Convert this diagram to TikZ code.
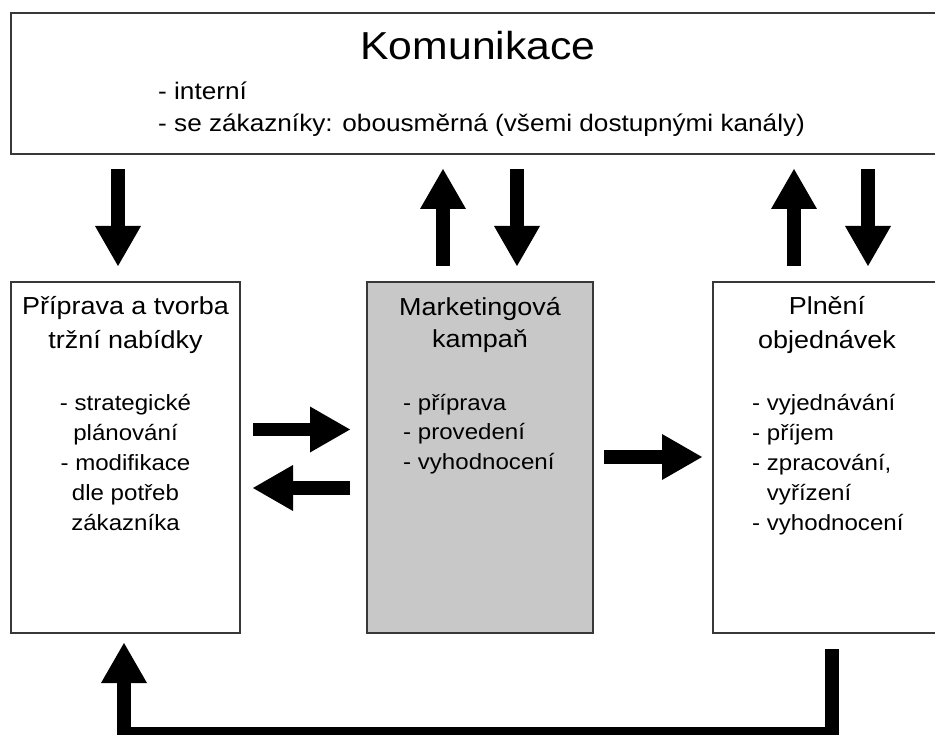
\documentclass[tikz,border=0pt]{standalone}
\usepackage{fontspec}
\setmainfont{Liberation Sans}[FakeStretch=1.095]
\usetikzlibrary{arrows.meta,calc}
\definecolor{boxline}{HTML}{383838}
\definecolor{campfill}{HTML}{C8C8C8}

\begin{document}
\begin{tikzpicture}[x=1pt,y=-1pt,
  panel/.style={draw=boxline, line width=2pt, fill=white, rectangle, inner sep=0pt},
  blk/.style={line width=13.5pt, line join=miter,
    -{Triangle[length=40pt,width=46pt,line width=0pt]}},
  headline/.style={font=\fontsize{39}{44}\selectfont, inner sep=0pt, anchor=base},
  topitem/.style={font=\fontsize{23.9}{28}\selectfont, inner sep=0pt, anchor=base west},
  title/.style={font=\fontsize{24.6}{30}\selectfont, inner sep=0pt, anchor=base},
  item/.style={font=\fontsize{22}{26}\selectfont, inner sep=0pt, anchor=base west},
  citem/.style={font=\fontsize{22}{26}\selectfont, inner sep=0pt, anchor=base}]

  % page frame
  \fill[white] (0,0) rectangle (935,735);
  \useasboundingbox (0,0) rectangle (935,735);

  % panels
  \node[panel, minimum width=934pt, minimum height=141pt] (kom) at (478,83.5) {};
  \node[panel, minimum width=229pt, minimum height=351pt] (prep) at (125.5,457.5) {};
  \node[panel, fill=campfill, minimum width=226pt, minimum height=351pt] (camp) at (480,457.5) {};
  \node[panel, minimum width=228pt, minimum height=351pt] (ful) at (827,457.5) {};

  % communication panel text
  \node[headline] (komt) at (478,60) {Komunikace};
  \node[topitem] (kom1) at (158,100) {- interní};
  \node[topitem] (kom2) at (158,132) {- se zákazníky: obousměrná (všemi dostupnými kanály)};

  % offer preparation panel text
  \node[title] (prept1) at (125.5,315) {Příprava a tvorba};
  \node[title] (prept2) at (125.5,349) {tržní nabídky};
  \foreach \t [count=\i] in {- strategické, plánování, - modifikace, dle potřeb, zákazníka}
    \node[citem] (prepi\i) at (125.5,{410+30*(\i-1)}) {\t};

  % campaign panel text
  \node[title] (campt1) at (480,316) {Marketingová};
  \node[title] (campt2) at (480,348) {kampaň};
  \foreach \t [count=\i] in {- příprava, - provedení, - vyhodnocení}
    \node[item] (campi\i) at (403,{410+29.5*(\i-1)}) {\t};

  % order fulfilment panel text
  \node[title] (fult1) at (827,315) {Plnění};
  \node[title] (fult2) at (827,349) {objednávek};
  \foreach \t [count=\i] in {- vyjednávání, - příjem, {- zpracování,}, {\phantom{- }vyřízení}, - vyhodnocení}
    \node[item] (fuli\i) at (752,{410+30*(\i-1)}) {\t};

  % columns and rows of the block arrows
  \coordinate (xa) at (118,0);
  \coordinate (xb) at (443,0);
  \coordinate (xc) at (517,0);
  \coordinate (xd) at (794,0);
  \coordinate (xe) at (868,0);
  \coordinate (ya) at (0,429.5);
  \coordinate (yb) at (0,488);
  \coordinate (yc) at (0,457);
  \coordinate (fbR) at (832,734);
  \coordinate (fbL) at (124,734);

  % vertical links with the communication panel
  \draw[blk] ($(kom.south -| xa)+(0,14)$) -- ($(prep.north -| xa)+(0,-15)$);
  \draw[blk] ($(camp.north -| xb)+(0,-15)$) -- ($(kom.south -| xb)+(0,14)$);
  \draw[blk] ($(kom.south -| xc)+(0,14)$) -- ($(camp.north -| xc)+(0,-15)$);
  \draw[blk] ($(ful.north -| xd)+(0,-15)$) -- ($(kom.south -| xd)+(0,14)$);
  \draw[blk] ($(kom.south -| xe)+(0,14)$) -- ($(ful.north -| xe)+(0,-15)$);

  % horizontal links between panels
  \draw[blk] ($(prep.east |- ya)+(12,0)$) -- ($(camp.west |- ya)+(-16,0)$);
  \draw[blk] ($(camp.west |- yb)+(-16,0)$) -- ($(prep.east |- yb)+(12,0)$);
  \draw[blk] ($(camp.east |- yc)+(10,0)$) -- ($(ful.west |- yc)+(-10,0)$);

  % feedback loop back to the offer preparation
  \draw[blk] ($(ful.south -| fbR)+(0,15)$) -- (fbR) -- (fbL) -- ($(prep.south -| fbL)+(0,9)$);
\end{tikzpicture}
\end{document}
